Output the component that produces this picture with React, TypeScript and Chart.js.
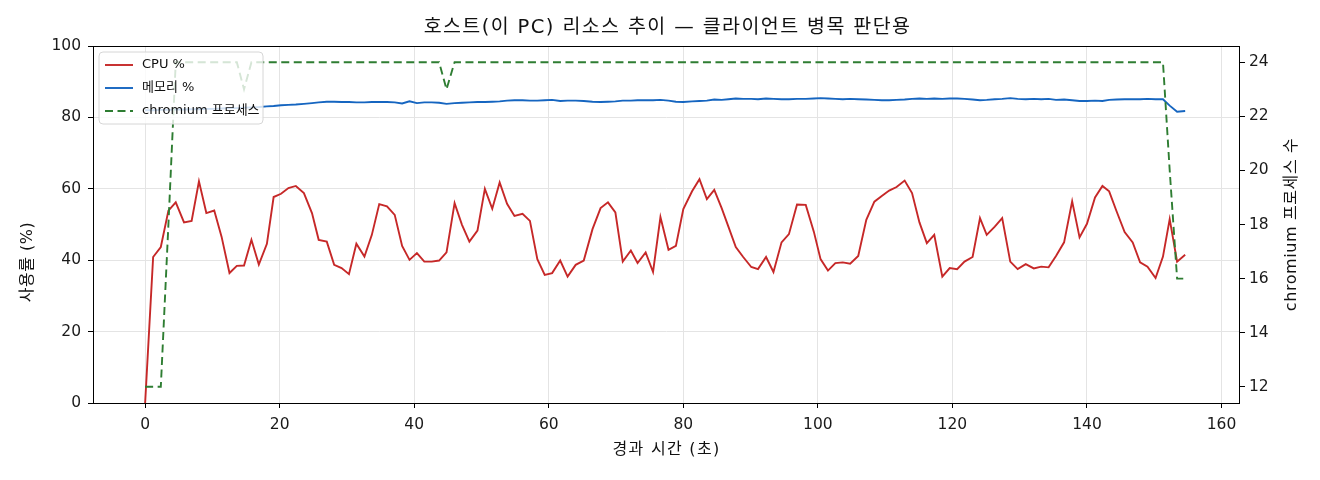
import React, { useEffect, useRef } from "react";
import { Chart, registerables } from "chart.js";

Chart.register(...registerables);

// ---- data ----
const elapsed = [
  0, 1.19, 2.33, 3.46, 4.55, 5.78, 6.91, 8.0, 9.1, 10.27, 11.36, 12.54, 13.63, 14.7, 15.8, 16.9, 18.1, 19.1, 20.2, 21.3,
  22.4, 23.6, 24.8, 25.8, 27.0, 28.1, 29.2, 30.3, 31.4, 32.6, 33.7, 34.8, 35.95, 37.1, 38.2, 39.3, 40.4, 41.5, 42.6, 43.7,
  44.8, 46.0, 47.1, 48.2, 49.4, 50.5, 51.6, 52.7, 53.8, 54.9, 56.1, 57.2, 58.3, 59.4, 60.5, 61.7, 62.8, 64.0, 65.2, 66.5,
  67.7, 68.8, 69.9, 71.0, 72.2, 73.2, 74.4, 75.5, 76.6, 77.8, 78.9, 80.0, 81.3, 82.4, 83.5, 84.6, 85.7, 86.7, 87.8, 88.9,
  90.1, 91.1, 92.3, 93.4, 94.6, 95.7, 96.9, 98.2, 99.4, 100.4, 101.5, 102.6, 103.7, 104.8, 106.0, 107.2, 108.4, 109.5, 110.6, 111.7,
  112.9, 114.0, 115.1, 116.2, 117.3, 118.5, 119.6, 120.7, 121.8, 123.0, 124.1, 125.1, 126.3, 127.4, 128.6, 129.7, 130.9, 132.1, 133.2, 134.3,
  135.4, 136.6, 137.8, 138.9, 140.0, 141.2, 142.3, 143.3, 144.4, 145.6, 146.8, 147.9, 149.0, 150.2, 151.3, 152.3, 153.4, 154.6,
];

const cpuPct = [
  0, 40.9, 43.7, 53.9, 56.2, 50.6, 51.0, 62.1, 53.2, 53.9, 46.6, 36.4, 38.4, 38.5, 45.7, 38.8, 44.6, 57.7, 58.6, 60.2,
  60.8, 58.8, 53.2, 45.7, 45.2, 38.7, 37.8, 36.1, 44.6, 41.0, 47.1, 55.7, 55.1, 52.7, 44.0, 40.1, 42.0, 39.6, 39.6, 39.9,
  42.2, 56.0, 49.9, 45.2, 48.3, 60.0, 54.4, 61.8, 55.8, 52.4, 53.0, 51.0, 40.3, 35.9, 36.4, 39.9, 35.4, 38.7, 39.9, 48.7,
  54.6, 56.2, 53.4, 39.6, 42.7, 39.2, 42.2, 36.7, 52.1, 42.9, 44.0, 54.3, 59.3, 62.7, 57.1, 59.7, 54.6, 49.4, 43.7, 40.9,
  38.1, 37.5, 40.9, 36.7, 45.0, 47.3, 55.6, 55.5, 48.0, 40.3, 37.1, 39.2, 39.4, 39.0, 41.2, 51.3, 56.4, 58.0, 59.5, 60.5,
  62.3, 58.8, 50.6, 44.8, 47.1, 35.4, 37.8, 37.5, 39.6, 40.9, 51.8, 47.1, 49.4, 51.8, 39.6, 37.5, 38.9, 37.7, 38.2, 38.0,
  41.2, 45.0, 56.5, 46.4, 50.2, 57.6, 60.8, 59.3, 53.7, 47.9, 45.0, 39.4, 38.2, 35.0, 41.0, 51.5, 39.6, 41.5,
];

const memPct = [
  82.0, 82.0, 82.1, 82.1, 82.2, 82.2, 82.3, 82.3, 82.4, 82.4, 82.5, 82.6, 82.6, 82.7, 82.8, 82.9, 83.1, 83.2, 83.4, 83.5,
  83.6, 83.8, 84.0, 84.2, 84.4, 84.4, 84.3, 84.3, 84.2, 84.2, 84.3, 84.3, 84.3, 84.2, 83.9, 84.5, 84.0, 84.2, 84.2, 84.1,
  83.8, 84.0, 84.1, 84.2, 84.3, 84.3, 84.4, 84.5, 84.7, 84.8, 84.8, 84.7, 84.7, 84.8, 84.9, 84.6, 84.7, 84.7, 84.6, 84.4,
  84.3, 84.4, 84.5, 84.7, 84.7, 84.8, 84.8, 84.8, 84.9, 84.7, 84.4, 84.3, 84.5, 84.6, 84.7, 85.0, 84.9, 85.1, 85.3, 85.2,
  85.2, 85.1, 85.3, 85.2, 85.1, 85.1, 85.2, 85.2, 85.3, 85.4, 85.3, 85.2, 85.1, 85.2, 85.1, 85.0, 84.9, 84.8, 84.8, 84.9,
  85.0, 85.2, 85.3, 85.2, 85.3, 85.2, 85.3, 85.3, 85.2, 85.0, 84.8, 84.9, 85.1, 85.2, 85.4, 85.2, 85.1, 85.2, 85.1, 85.2,
  84.9, 85.0, 84.8, 84.6, 84.6, 84.7, 84.6, 84.9, 85.0, 85.1, 85.1, 85.1, 85.2, 85.1, 85.1, 83.3, 81.6, 81.8,
];

const procCount = [
  12, 12, 12, 18, 24, 24, 24, 24, 24, 24, 24, 24, 24, 23, 24, 24, 24, 24, 24, 24,
  24, 24, 24, 24, 24, 24, 24, 24, 24, 24, 24, 24, 24, 24, 24, 24, 24, 24, 24, 24,
  23, 24, 24, 24, 24, 24, 24, 24, 24, 24, 24, 24, 24, 24, 24, 24, 24, 24, 24, 24,
  24, 24, 24, 24, 24, 24, 24, 24, 24, 24, 24, 24, 24, 24, 24, 24, 24, 24, 24, 24,
  24, 24, 24, 24, 24, 24, 24, 24, 24, 24, 24, 24, 24, 24, 24, 24, 24, 24, 24, 24,
  24, 24, 24, 24, 24, 24, 24, 24, 24, 24, 24, 24, 24, 24, 24, 24, 24, 24, 24, 24,
  24, 24, 24, 24, 24, 24, 24, 24, 24, 24, 24, 24, 24, 24, 24, 20, 16, 16,
];

const xTicks = [0, 20, 40, 60, 80, 100, 120, 140, 160];
const pctTicks = [0, 20, 40, 60, 80, 100];
const procTicks = [12, 14, 16, 18, 20, 22, 24];

const seriesLabels = ["CPU %", "메모리 %", "chromium 프로세스"];
const seriesColors = ["#c62828", "#1565c0", "#2e7d32"];
const chartTitle = "호스트(이 PC) 리소스 추이 — 클라이언트 병목 판단용";
const xTitle = "경과 시간 (초)";
const yTitle = "사용률 (%)";
const y2Title = "chromium 프로세스 수";

const FONT = '"DejaVu Sans", "Noto Sans CJK KR", sans-serif';
const DASH = [8, 4.5];

const toPoints = (ys: number[]) => elapsed.map((x, i) => ({ x, y: ys[i] }));

const decorPlugin = {
  id: "decor",
  afterDatasetsDraw(chart: any) {
    const { ctx, chartArea: a } = chart;
    ctx.save();
    // frame (all four spines)
    ctx.strokeStyle = "#000";
    ctx.lineWidth = 1;
    ctx.strokeRect(Math.round(a.left) + 0.5, Math.round(a.top) + 0.5, Math.round(a.right - a.left) - 1, Math.round(a.bottom - a.top));

    // title
    ctx.fillStyle = "#111";
    ctx.textAlign = "center";
    ctx.textBaseline = "middle";
    ctx.font = `19.5px ${FONT}`;
    ctx.letterSpacing = "1.4px";
    ctx.fillText(chartTitle, (a.left + a.right) / 2 + 1, 28);

    // axis titles
    ctx.font = `16px ${FONT}`;
    ctx.letterSpacing = "1.3px";
    ctx.fillText(xTitle, (a.left + a.right) / 2, 450);
    ctx.save();
    ctx.translate(28, 262);
    ctx.rotate(-Math.PI / 2);
    ctx.letterSpacing = "0.5px";
    ctx.fillText(yTitle, 0, 0);
    ctx.restore();
    ctx.save();
    ctx.translate(1292, (a.top + a.bottom) / 2);
    ctx.rotate(-Math.PI / 2);
    ctx.letterSpacing = "0.6px";
    ctx.fillText(y2Title, 0, 0);
    ctx.restore();
    ctx.letterSpacing = "0px";

    // legend box
    const bx = 99, by = 52, bw = 164, bh = 72, r = 4;
    ctx.beginPath();
    ctx.moveTo(bx + r, by);
    ctx.lineTo(bx + bw - r, by);
    ctx.quadraticCurveTo(bx + bw, by, bx + bw, by + r);
    ctx.lineTo(bx + bw, by + bh - r);
    ctx.quadraticCurveTo(bx + bw, by + bh, bx + bw - r, by + bh);
    ctx.lineTo(bx + r, by + bh);
    ctx.quadraticCurveTo(bx, by + bh, bx, by + bh - r);
    ctx.lineTo(bx, by + r);
    ctx.quadraticCurveTo(bx, by, bx + r, by);
    ctx.closePath();
    ctx.fillStyle = "rgba(255,255,255,0.8)";
    ctx.fill();
    ctx.strokeStyle = "#d6d6d6";
    ctx.lineWidth = 1;
    ctx.stroke();

    ctx.textAlign = "left";
    ctx.font = `13px ${FONT}`;
    seriesLabels.forEach((label, i) => {
      const cy = by + 13 + i * 23;
      ctx.beginPath();
      ctx.strokeStyle = seriesColors[i];
      ctx.lineWidth = 1.9;
      ctx.setLineDash(i === 2 ? DASH : []);
      ctx.moveTo(105, cy);
      ctx.lineTo(133, cy);
      ctx.stroke();
      ctx.setLineDash([]);
      ctx.fillStyle = "#111";
      ctx.fillText(label, 142, cy);
    });
    ctx.restore();
  },
};

export default function App() {
  const ref = useRef<HTMLCanvasElement | null>(null);

  useEffect(() => {
    if (!ref.current) return;
    const tickFont = { family: FONT, size: 15.5 };
    const chart = new Chart(ref.current, {
      type: "line",
      data: {
        datasets: [
          {
            label: seriesLabels[0],
            data: toPoints(cpuPct),
            borderColor: seriesColors[0],
            borderWidth: 1.9,
            yAxisID: "y",
            order: 2,
          },
          {
            label: seriesLabels[1],
            data: toPoints(memPct),
            borderColor: seriesColors[1],
            borderWidth: 1.9,
            yAxisID: "y",
            order: 1,
          },
          {
            label: seriesLabels[2],
            data: toPoints(procCount),
            borderColor: seriesColors[2],
            borderWidth: 1.9,
            borderDash: DASH,
            yAxisID: "y2",
            order: 0,
          },
        ],
      },
      options: {
        animation: false,
        responsive: false,
        maintainAspectRatio: false,
        layout: { padding: { top: 46, left: 0, right: 0, bottom: 0 } },
        elements: { point: { radius: 0, hoverRadius: 0 }, line: { tension: 0, fill: false } },
        plugins: {
          legend: { display: false },
          title: { display: false },
          tooltip: { enabled: false },
        },
        events: [],
        scales: {
          x: {
            type: "linear",
            min: -7.75,
            max: 162.75,
            afterBuildTicks: (s: any) => {
              s.ticks = xTicks.map((v) => ({ value: v }));
            },
            afterFit: (s: any) => {
              s.height = 77;
            },
            grid: { color: "#e4e4e4", lineWidth: 1, tickColor: "#000", tickLength: 5, drawTicks: true },
            border: { display: false },
            ticks: { font: tickFont, color: "#1a1a1a", padding: 8, maxRotation: 0, autoSkip: false },
          },
          y: {
            type: "linear",
            position: "left",
            min: 0,
            max: 100,
            afterBuildTicks: (s: any) => {
              s.ticks = pctTicks.map((v) => ({ value: v }));
            },
            afterFit: (s: any) => {
              s.width = 93;
            },
            grid: { color: "#e4e4e4", lineWidth: 1, tickColor: "#000", tickLength: 5 },
            border: { display: false },
            ticks: { font: tickFont, color: "#1a1a1a", padding: 7 },
          },
          y2: {
            type: "linear",
            position: "right",
            min: 11.4,
            max: 24.6,
            afterBuildTicks: (s: any) => {
              s.ticks = procTicks.map((v) => ({ value: v }));
            },
            afterFit: (s: any) => {
              s.width = 80;
            },
            grid: { drawOnChartArea: false, tickColor: "#000", tickLength: 5 },
            border: { display: false },
            ticks: { font: tickFont, color: "#1a1a1a", padding: 4 },
          },
        },
      },
      plugins: [decorPlugin],
    } as any);
    return () => chart.destroy();
  }, []);

  return (
    <div style={{ position: "fixed", left: 0, top: 0, width: 1320, height: 480, background: "#fff" }}>
      <canvas ref={ref} width={1320} height={480} style={{ display: "block", width: 1320, height: 480 }} />
    </div>
  );
}
